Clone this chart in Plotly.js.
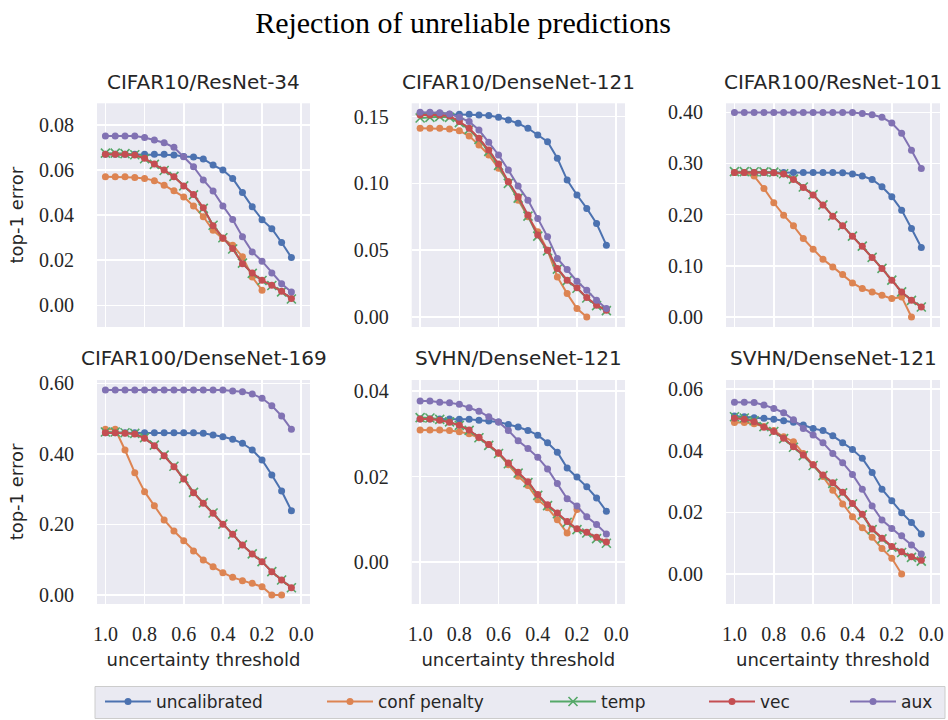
<!DOCTYPE html>
<html>
<head>
<meta charset="utf-8">
<script src="https://cdn.plot.ly/plotly-3.0.1.min.js"></script>
<style>html,body{margin:0;padding:0;background:#fff;}</style>
</head>
<body>
<div id="chart" style="width:948px;height:720px;"></div>
<script>
// Uncertainty thresholds at which predictions are rejected (x axis, reversed)
const thresholds = [1.00, 0.95, 0.90, 0.85, 0.80, 0.75, 0.70, 0.65, 0.60, 0.55,
                    0.50, 0.45, 0.40, 0.35, 0.30, 0.25, 0.20, 0.15, 0.10, 0.05];
const xTickVals = [0.0, 0.2, 0.4, 0.6, 0.8, 1.0];

const methodNames = ['uncalibrated', 'conf penalty', 'temp', 'vec', 'aux'];
const panelTitles = ['CIFAR10/ResNet-34', 'CIFAR10/DenseNet-121', 'CIFAR100/ResNet-101',
                     'CIFAR100/DenseNet-169', 'SVHN/DenseNet-121', 'SVHN/DenseNet-121'];

// CIFAR10 / ResNet-34
const c10r34Uncal = [0.0670,0.0670,0.0670,0.0670,0.0670,0.0670,0.0670,0.0667,0.0660,0.0658,0.0649,0.0622,0.0600,0.0563,0.0500,0.0437,0.0380,0.0340,0.0279,0.0212];
const c10r34Conf  = [0.0570,0.0570,0.0570,0.0567,0.0563,0.0553,0.0533,0.0508,0.0481,0.0441,0.0393,0.0333,0.0296,0.0267,0.0215,0.0126,0.0067];
const c10r34Temp  = [0.0675,0.0675,0.0673,0.0668,0.0650,0.0625,0.0598,0.0572,0.0530,0.0490,0.0430,0.0355,0.0300,0.0250,0.0187,0.0142,0.0110,0.0088,0.0060,0.0028];
const c10r34Vec   = [0.0670,0.0670,0.0670,0.0667,0.0652,0.0627,0.0600,0.0570,0.0529,0.0492,0.0433,0.0353,0.0299,0.0252,0.0185,0.0144,0.0111,0.0089,0.0062,0.0030];
const c10r34Aux   = [0.0751,0.0751,0.0751,0.0751,0.0744,0.0733,0.0721,0.0701,0.0659,0.0615,0.0556,0.0507,0.0441,0.0381,0.0304,0.0237,0.0196,0.0144,0.0096,0.0059];

// CIFAR10 / DenseNet-121
const c10d121Uncal = [0.1525,0.1525,0.1525,0.1518,0.1518,0.1518,0.1513,0.1508,0.1495,0.1475,0.1450,0.1413,0.1363,0.1313,0.1188,0.1025,0.0913,0.0813,0.0700,0.0538];
const c10d121Conf  = [0.1413,0.1413,0.1413,0.1408,0.1395,0.1355,0.1288,0.1213,0.1113,0.1013,0.0875,0.0750,0.0638,0.0500,0.0300,0.0175,0.0063,0.0000];
const c10d121Temp  = [0.1490,0.1495,0.1500,0.1495,0.1455,0.1405,0.1330,0.1240,0.1135,0.1000,0.0890,0.0755,0.0605,0.0495,0.0358,0.0272,0.0215,0.0142,0.0085,0.0048];
const c10d121Vec   = [0.1513,0.1513,0.1513,0.1505,0.1463,0.1413,0.1338,0.1250,0.1145,0.1013,0.0900,0.0763,0.0613,0.0500,0.0363,0.0275,0.0218,0.0145,0.0088,0.0050];
const c10d121Aux   = [0.1533,0.1533,0.1530,0.1520,0.1495,0.1463,0.1400,0.1308,0.1213,0.1100,0.0980,0.0875,0.0738,0.0600,0.0438,0.0355,0.0268,0.0200,0.0125,0.0063];

// CIFAR100 / ResNet-101
const c100r101Uncal = [0.2825,0.2825,0.2825,0.2825,0.2825,0.2825,0.2825,0.2825,0.2825,0.2825,0.2822,0.2820,0.2793,0.2754,0.2688,0.2545,0.2350,0.2088,0.1730,0.1357];
const c100r101Conf  = [0.2825,0.2825,0.2754,0.2512,0.2232,0.1990,0.1781,0.1533,0.1325,0.1129,0.0979,0.0829,0.0666,0.0555,0.0489,0.0424,0.0359,0.0392,0.0000];
const c100r101Temp  = [0.2840,0.2840,0.2838,0.2835,0.2830,0.2800,0.2695,0.2540,0.2390,0.2190,0.1975,0.1785,0.1580,0.1385,0.1165,0.0950,0.0720,0.0490,0.0325,0.0195];
const c100r101Vec   = [0.2825,0.2825,0.2825,0.2825,0.2820,0.2793,0.2688,0.2532,0.2382,0.2186,0.1970,0.1781,0.1579,0.1383,0.1161,0.0946,0.0718,0.0489,0.0326,0.0196];
const c100r101Aux   = [0.3995,0.3995,0.3995,0.3995,0.3995,0.3995,0.3995,0.3995,0.3995,0.3995,0.3995,0.3995,0.3995,0.3975,0.3950,0.3905,0.3790,0.3590,0.3260,0.2900];

// CIFAR100 / DenseNet-169
const c100d169Uncal = [0.4602,0.4602,0.4602,0.4602,0.4602,0.4602,0.4602,0.4602,0.4602,0.4602,0.4583,0.4535,0.4488,0.4413,0.4300,0.4110,0.3827,0.3402,0.2948,0.2390];
const c100d169Conf  = [0.4696,0.4696,0.4110,0.3468,0.2929,0.2532,0.2126,0.1814,0.1540,0.1247,0.0992,0.0803,0.0633,0.0501,0.0406,0.0331,0.0236,0.0000,0.0000];
const c100d169Temp  = [0.4620,0.4620,0.4600,0.4580,0.4460,0.4250,0.3965,0.3650,0.3300,0.2910,0.2610,0.2325,0.2010,0.1725,0.1420,0.1165,0.0948,0.0663,0.0425,0.0205];
const c100d169Vec   = [0.4602,0.4602,0.4583,0.4564,0.4441,0.4233,0.3950,0.3638,0.3288,0.2901,0.2599,0.2315,0.2003,0.1720,0.1417,0.1162,0.0945,0.0661,0.0425,0.0208];
const c100d169Aux   = [0.5811,0.5811,0.5811,0.5811,0.5811,0.5811,0.5811,0.5811,0.5811,0.5811,0.5811,0.5811,0.5811,0.5783,0.5764,0.5698,0.5575,0.5367,0.5074,0.4696];

// SVHN / DenseNet-121 (first run)
const svhnAUncal = [0.0335,0.0335,0.0335,0.0335,0.0334,0.0334,0.0332,0.0330,0.0328,0.0322,0.0316,0.0308,0.0297,0.0279,0.0257,0.0220,0.0199,0.0176,0.0150,0.0119];
const svhnAConf  = [0.0309,0.0309,0.0309,0.0308,0.0305,0.0300,0.0291,0.0275,0.0254,0.0228,0.0201,0.0179,0.0146,0.0127,0.0099,0.0068,0.0123];
const svhnATemp  = [0.0338,0.0337,0.0334,0.0328,0.0320,0.0308,0.0291,0.0273,0.0254,0.0230,0.0208,0.0186,0.0156,0.0132,0.0113,0.0093,0.0076,0.0068,0.0055,0.0044];
const svhnAVec   = [0.0335,0.0335,0.0332,0.0327,0.0320,0.0309,0.0292,0.0275,0.0256,0.0232,0.0210,0.0188,0.0158,0.0134,0.0115,0.0095,0.0078,0.0070,0.0058,0.0047];
const svhnAAux   = [0.0377,0.0377,0.0374,0.0373,0.0369,0.0361,0.0353,0.0340,0.0328,0.0308,0.0284,0.0266,0.0245,0.0218,0.0184,0.0148,0.0131,0.0106,0.0088,0.0066];

// SVHN / DenseNet-121 (second run)
const svhnBUncal = [0.0512,0.0510,0.0507,0.0505,0.0502,0.0497,0.0492,0.0483,0.0472,0.0465,0.0448,0.0426,0.0404,0.0375,0.0329,0.0275,0.0238,0.0199,0.0167,0.0130];
const svhnBConf  = [0.0491,0.0491,0.0487,0.0478,0.0465,0.0445,0.0429,0.0391,0.0354,0.0316,0.0272,0.0227,0.0186,0.0150,0.0119,0.0083,0.0051,0.0000];
const svhnBTemp  = [0.0510,0.0506,0.0497,0.0478,0.0462,0.0439,0.0411,0.0384,0.0352,0.0319,0.0294,0.0263,0.0227,0.0192,0.0144,0.0114,0.0087,0.0070,0.0054,0.0042];
const svhnBVec   = [0.0505,0.0502,0.0494,0.0476,0.0462,0.0440,0.0413,0.0386,0.0354,0.0321,0.0296,0.0265,0.0229,0.0194,0.0146,0.0116,0.0089,0.0072,0.0056,0.0045];
const svhnBAux   = [0.0557,0.0557,0.0556,0.0548,0.0537,0.0523,0.0500,0.0472,0.0451,0.0426,0.0391,0.0361,0.0323,0.0275,0.0221,0.0175,0.0148,0.0124,0.0094,0.0065];

const panelSeries = [
  [c10r34Uncal,   c10r34Conf,   c10r34Temp,   c10r34Vec,   c10r34Aux],
  [c10d121Uncal,  c10d121Conf,  c10d121Temp,  c10d121Vec,  c10d121Aux],
  [c100r101Uncal, c100r101Conf, c100r101Temp, c100r101Vec, c100r101Aux],
  [c100d169Uncal, c100d169Conf, c100d169Temp, c100d169Vec, c100d169Aux],
  [svhnAUncal,    svhnAConf,    svhnATemp,    svhnAVec,    svhnAAux],
  [svhnBUncal,    svhnBConf,    svhnBTemp,    svhnBVec,    svhnBAux]
];

// ---- styling ----
const W = 948, H = 720;
const colors = ['#4C72B0', '#DD8452', '#55A868', '#C44E52', '#8172B3'];
const inkColor = '#262626';
const sansFont = 'DejaVu Sans, Noto Sans, sans-serif';
const serifFont = 'Liberation Serif, DejaVu Serif, serif';

// panel boxes in pixels: [left, right, top, bottom]
const boxes = [
  [97, 310, 103.3, 327], [411.7, 625, 103.3, 327], [726, 940, 103.3, 327],
  [97, 310, 380, 604],   [411.7, 625, 380, 604],   [726, 940, 380, 604]
];
const yRanges = [[-0.0096, 0.0896], [-0.0075, 0.160], [-0.0196, 0.4176],
                 [-0.0255, 0.6094], [-0.0098, 0.0426], [-0.0097, 0.0629]];
const yDticks = [0.02, 0.05, 0.1, 0.2, 0.02, 0.02];

const traces = [];
const layout = {
  width: W, height: H,
  margin: {l: 0, r: 0, t: 0, b: 0},
  paper_bgcolor: '#ffffff',
  plot_bgcolor: '#EAEAF2',
  showlegend: true,
  title: {
    text: 'Rejection of unreliable predictions',
    xref: 'container', yref: 'container',
    x: 463 / W, xanchor: 'center',
    y: 1 - 22 / H, yanchor: 'middle',
    font: {family: serifFont, size: 30, color: '#000000'}
  },
  annotations: [],
  shapes: []
};

panelSeries.forEach((series, p) => {
  const n = p + 1;
  const xa = 'x' + (n === 1 ? '' : n);
  const ya = 'y' + (n === 1 ? '' : n);
  const [l, r, t, b] = boxes[p];
  const bottomRow = p >= 3;
  const leftCol = p % 3 === 0;

  series.forEach((vals, m) => {
    const isTemp = m === 2;
    traces.push({
      type: 'scatter', mode: 'lines+markers',
      x: thresholds.slice(0, vals.length), y: vals,
      xaxis: xa, yaxis: ya,
      name: methodNames[m],
      showlegend: p === 0,
      legend: m === 0 ? 'legend' : 'legend' + (m + 1),
      line: {color: colors[m], width: 2},
      marker: isTemp
        ? {symbol: 'x-thin', size: 9, color: colors[m], line: {color: colors[m], width: 1.6}}
        : {symbol: 'circle', size: 7, color: colors[m], line: {width: 0}},
      hoverinfo: 'x+y+name'
    });
  });

  layout['xaxis' + (n === 1 ? '' : n)] = {
    domain: [l / W, r / W], anchor: ya,
    range: [1.043, -0.045],
    tickmode: 'array', tickvals: xTickVals,
    tickformat: '.1f',
    showticklabels: bottomRow,
    ticks: 'outside', ticklen: 12, tickcolor: 'rgba(0,0,0,0)',
    tickfont: {family: serifFont, size: 20, color: inkColor},
    showgrid: true, gridcolor: '#ffffff', gridwidth: 1.6,
    zeroline: false, showline: false,
    title: bottomRow ? {text: 'uncertainty threshold', standoff: 9,
                        font: {family: sansFont, size: 18, color: inkColor}} : {text: ''}
  };
  layout['yaxis' + (n === 1 ? '' : n)] = {
    domain: [1 - b / H, 1 - t / H], anchor: xa,
    range: yRanges[p],
    tick0: 0, dtick: yDticks[p],
    tickformat: '.2f',
    ticks: 'outside', ticklen: 18, tickcolor: 'rgba(0,0,0,0)',
    tickfont: {family: serifFont, size: 20, color: inkColor},
    showgrid: true, gridcolor: '#ffffff', gridwidth: 1.6,
    zeroline: false, showline: false,
    title: leftCol ? {text: 'top-1 error', standoff: 10,
                      font: {family: sansFont, size: 18, color: inkColor}} : {text: ''}
  };

  layout.annotations.push({
    text: panelTitles[p], xref: 'paper', yref: 'paper',
    x: (l + r) / 2 / W, y: 1 - (bottomRow ? 358 : 81.7) / H,
    xanchor: 'center', yanchor: 'middle', showarrow: false,
    font: {family: sansFont, size: 20, color: inkColor}
  });
});

// legend frame along the bottom
layout.shapes.push({
  type: 'rect', xref: 'paper', yref: 'paper', layer: 'below',
  x0: 95 / W, x1: 945 / W, y0: 1 - 718.5 / H, y1: 1 - 686.5 / H,
  fillcolor: '#EAEAF2', line: {color: '#CCCCCC', width: 1}
});

// one legend per method so each entry sits at its own column position
const legendX = [100, 322, 545, 704, 845];
legendX.forEach((px, m) => {
  const key = m === 0 ? 'legend' : 'legend' + (m + 1);
  layout[key] = {
    x: px / W, xref: 'paper', xanchor: 'left',
    y: 1 - 702 / H, yref: 'paper', yanchor: 'middle',
    orientation: 'h',
    bgcolor: 'rgba(0,0,0,0)', borderwidth: 0,
    itemwidth: 46,
    font: {family: sansFont, size: 17, color: inkColor}
  };
});

Plotly.newPlot('chart', traces, layout, {displayModeBar: false, staticPlot: true});
</script>
</body>
</html>
